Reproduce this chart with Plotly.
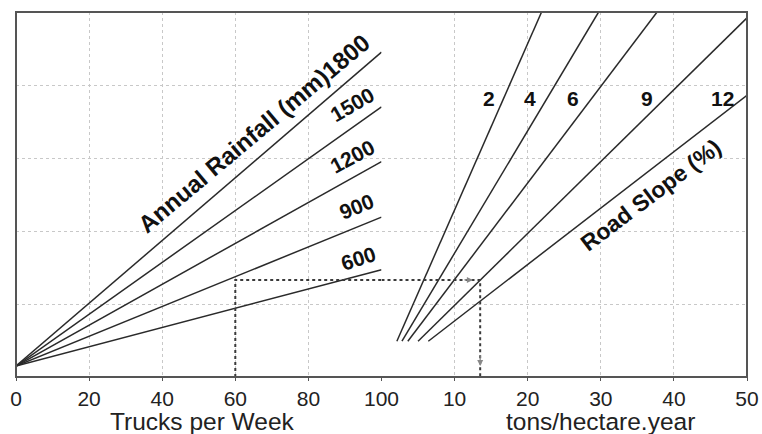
import plotly.graph_objects as go

# ---------------- data ----------------
# Left panel: trucks per week vs. (unitless) nomograph scale
rain_mm = [600, 900, 1200, 1500, 1800]
trucks_range = [0, 100]
rain_y_start = [0.15, 0.15, 0.15, 0.15, 0.15]
rain_y_end = [1.47, 2.19, 2.95, 3.70, 4.45]

# Right panel: tons/hectare.year lines for road slope (%)
slope_pct = [2, 4, 6, 9, 12]
slope_t_start = [2.1, 2.8, 3.6, 5.0, 6.4]
slope_y_start = [0.49, 0.49, 0.49, 0.49, 0.49]
slope_t_end = [21.9, 29.7, 37.7, 50.0, 50.0]
slope_y_end = [5.0, 5.0, 5.0, 4.92, 3.86]

# Example reading (dotted guide)
ex_trucks = 60
ex_level = 1.33
ex_tons = 13.5

left_ticks = [0, 20, 40, 60, 80, 100]
right_ticks = [10, 20, 30, 40, 50]

FONT = "Liberation Sans, Arial, Helvetica, sans-serif"
LINE = "#2a2a2a"
GRID = "#c8c8c8"
GUIDE = "#3a3a3a"

fig = go.Figure()

for r, y0, y1 in zip(rain_mm, rain_y_start, rain_y_end):
    fig.add_trace(go.Scatter(x=trucks_range, y=[y0, y1], mode="lines",
                             line=dict(color=LINE, width=1.5),
                             xaxis="x", yaxis="y", showlegend=False,
                             hoverinfo="skip"))

for s, t0, y0, t1, y1 in zip(slope_pct, slope_t_start, slope_y_start,
                             slope_t_end, slope_y_end):
    fig.add_trace(go.Scatter(x=[t0, t1], y=[y0, y1], mode="lines",
                             line=dict(color=LINE, width=1.5),
                             xaxis="x2", yaxis="y", showlegend=False,
                             hoverinfo="skip"))

# dotted guides
guide = dict(color=GUIDE, width=2, dash="dot")
fig.add_trace(go.Scatter(x=[ex_trucks, ex_trucks, 100], y=[0, ex_level, ex_level],
                         mode="lines", line=guide, xaxis="x", yaxis="y",
                         showlegend=False, hoverinfo="skip"))
fig.add_trace(go.Scatter(x=[0, ex_tons, ex_tons], y=[ex_level, ex_level, 0],
                         mode="lines", line=guide, xaxis="x2", yaxis="y",
                         showlegend=False, hoverinfo="skip"))

annotations = []
# arrowheads
annotations.append(dict(x=ex_tons - 1.0, y=ex_level, xref="x2", yref="y",
                        ax=-10, ay=0, showarrow=True, arrowhead=2,
                        arrowsize=1, arrowwidth=1.2, arrowcolor="#888", text=""))
annotations.append(dict(x=ex_tons, y=0.15, xref="x2", yref="y",
                        ax=0, ay=-12, showarrow=True, arrowhead=2,
                        arrowsize=1, arrowwidth=1.2, arrowcolor="#888", text=""))

# rainfall labels
rain_labels = ["600", "900", "1200", "1500", "Annual Rainfall (mm)1800"]
rain_lab_x = [93.6, 93.2, 92.0, 92.0, 65.0]
rain_lab_y = [1.62, 2.34, 3.02, 3.73, 3.34]
rain_lab_ang = [-18, -22, -28, -30, -40]
rain_lab_size = [21, 21, 21, 21, 24]
for txt, x, y, a, fs in zip(rain_labels, rain_lab_x, rain_lab_y, rain_lab_ang,
                            rain_lab_size):
    annotations.append(dict(x=x, y=y, xref="x", yref="y", text=f"<b>{txt}</b>",
                            showarrow=False, textangle=a,
                            font=dict(family=FONT, size=fs, color="#111")))

# slope labels
slope_lab_t = [14.7, 20.3, 26.2, 36.3, 46.7]
slope_lab_y = [3.82, 3.82, 3.82, 3.82, 3.82]
for s, x, y in zip(slope_pct, slope_lab_t, slope_lab_y):
    annotations.append(dict(x=x, y=y, xref="x2", yref="y", text=f"<b>{s}</b>",
                            showarrow=False,
                            font=dict(family=FONT, size=21, color="#111")))
annotations.append(dict(x=36.8, y=2.5, xref="x2", yref="y",
                        text="<b>Road Slope (%)</b>", showarrow=False,
                        textangle=-37,
                        font=dict(family=FONT, size=23, color="#111")))

# axis titles
annotations.append(dict(x=51, y=0, xref="x", yref="paper", yanchor="top",
                        yshift=-29, text="Trucks per Week", showarrow=False,
                        font=dict(family=FONT, size=24.5, color="#222")))
annotations.append(dict(x=30, y=0, xref="x2", yref="paper", yanchor="top",
                        yshift=-29, text="tons/hectare.year", showarrow=False,
                        font=dict(family=FONT, size=24.5, color="#222")))

axis_common = dict(showgrid=True, gridcolor=GRID, griddash="dot", gridwidth=1,
                   zeroline=False, showline=False, ticks="outside", ticklen=3,
                   tickcolor="#555", automargin=False,
                   tickfont=dict(family=FONT, size=21, color="#222"))

fig.update_layout(
    width=762, height=434,
    margin=dict(l=16, r=15, t=12, b=57),
    paper_bgcolor="white", plot_bgcolor="white",
    xaxis=dict(domain=[0, 0.5], range=[0, 100], tickvals=left_ticks,
               anchor="y", **axis_common),
    xaxis2=dict(domain=[0.5, 1], range=[0, 50], tickvals=right_ticks,
                anchor="y", **axis_common),
    yaxis=dict(range=[0, 5], dtick=1, showticklabels=False, showgrid=True,
               gridcolor=GRID, griddash="dot", zeroline=False, showline=False,
               ticks="", automargin=False),
    annotations=annotations,
    shapes=[dict(type="rect", xref="paper", yref="paper", x0=0, x1=1, y0=0, y1=1,
                 line=dict(color="#555", width=2), layer="above")],
)

fig.write_html("out.html")
